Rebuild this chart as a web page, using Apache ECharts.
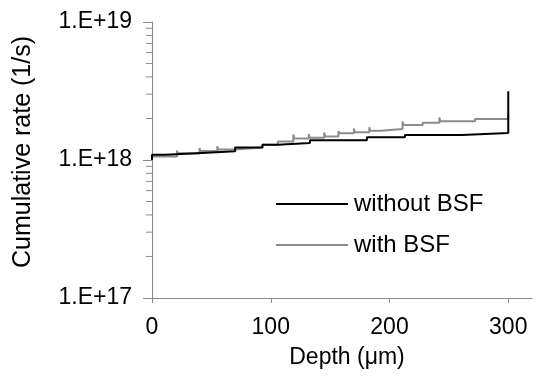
<!DOCTYPE html>
<html>
<head>
<meta charset="utf-8">
<script src="https://cdn.jsdelivr.net/npm/echarts@6/dist/echarts.min.js"></script>
<style>html,body{margin:0;padding:0;background:#fff;}#c{width:539px;height:385px;}</style>
</head>
<body>
<div id="c"></div>
<script>
// Depth (µm), cumulative rate (1/s) — step points (value holds from x to next x)
var withoutBSF = [
  [0, 1.0e18], [0, 1.09e18], [11, 1.12e18], [38, 1.155e18], [70, 1.23e18],
  [93, 1.29e18], [106, 1.33e18], [133, 1.39e18], [181, 1.46e18],
  [213, 1.52e18], [261, 1.57e18], [300, 3.15e18]
];
var withBSF = [
  [0, 1.0e18], [0, 1.06e18],
  [21, 1.17e18], [21.8, 1.12e18],
  [40, 1.22e18], [40.8, 1.16e18],
  [55, 1.26e18], [55.8, 1.19e18],
  [70, 1.23e18], [93, 1.29e18], [106, 1.36e18],
  [119, 1.53e18], [119.8, 1.43e18],
  [132, 1.54e18], [132.8, 1.45e18],
  [145, 1.58e18], [145.8, 1.48e18],
  [157, 1.62e18], [157.8, 1.56e18],
  [170, 1.69e18], [170.8, 1.59e18],
  [183, 1.73e18], [183.8, 1.63e18],
  [193, 1.68e18],
  [211, 1.90e18], [211.8, 1.79e18],
  [228, 1.86e18],
  [242, 2.03e18], [242.8, 1.91e18],
  [272, 1.985e18], [300, 2.2e18]
];
var xTicks = [0, 100, 200, 300];
var yTickLabels = ['1.E+17', '1.E+18', '1.E+19'];
var yMinorTicks = [2e17, 3e17, 4e17, 5e17, 6e17, 7e17, 8e17, 9e17,
                   2e18, 3e18, 4e18, 5e18, 6e18, 7e18, 8e18, 9e18];

var FONT = 'Liberation Sans';
var AXIS = '#8a8a8a';
var chart = echarts.init(document.getElementById('c'), null, {renderer: 'canvas'});
chart.setOption({
  animation: false,
  backgroundColor: '#fff',
  textStyle: {fontFamily: FONT},
  grid: {left: 152, right: 7, top: 22, bottom: 87, containLabel: false},
  legend: {
    orient: 'vertical', left: 270, top: 187,
    itemWidth: 72, itemHeight: 24, itemGap: 17,
    itemStyle: {opacity: 0},
    textStyle: {fontFamily: FONT, fontSize: 24, color: '#000', padding: [0, 0, 0, 1]},
    data: ['without BSF', 'with BSF']
  },
  xAxis: {
    type: 'value', min: 0, max: 320, interval: 100,
    axisLine: {show: true, lineStyle: {color: AXIS, width: 1}},
    axisTick: {show: true, inside: false, length: 5, lineStyle: {color: AXIS}, customValues: xTicks},
    axisLabel: {fontFamily: FONT, fontSize: 23, color: '#000', margin: 18, customValues: xTicks},
    splitLine: {show: false},
    name: 'Depth (μm)', nameLocation: 'middle', nameGap: 48,
    nameTextStyle: {fontFamily: FONT, fontSize: 23, color: '#000', padding: [0, 0, 0, 10]}
  },
  yAxis: {
    type: 'log', logBase: 10, min: 1e17, max: 1e19,
    axisLine: {show: true, lineStyle: {color: AXIS, width: 1}},
    axisTick: {show: true, inside: false, length: 9, lineStyle: {color: AXIS}},
    axisLabel: {
      fontFamily: FONT, fontSize: 23, color: '#000', margin: 20,
      formatter: function (v) {
        var e = Math.round(Math.log10(v));
        return yTickLabels[e - 17] || '';
      }
    },
    splitLine: {show: false},
    name: 'Cumulative rate (1/s)', nameLocation: 'middle', nameGap: 116,
    nameTextStyle: {fontFamily: FONT, fontSize: 25, color: '#000', padding: [0, 0, 0, 16]}
  },
  series: [
    {
      name: 'with BSF', type: 'line', step: 'end', data: withBSF,
      showSymbol: false, symbol: 'none',
      lineStyle: {color: '#8c8c8c', width: 2}, itemStyle: {color: '#8c8c8c'},
      z: 2
    },
    {
      name: 'without BSF', type: 'line', step: 'end', data: withoutBSF,
      showSymbol: false, symbol: 'none',
      lineStyle: {color: '#000', width: 2}, itemStyle: {color: '#000'},
      z: 3
    },
    {
      type: 'custom', silent: true, clip: false,
      data: yMinorTicks.map(function (v) { return [0, v]; }),
      renderItem: function (params, api) {
        var p = api.coord([api.value(0), api.value(1)]);
        return {type: 'line', shape: {x1: p[0] - 6, y1: p[1], x2: p[0], y2: p[1]},
                style: {stroke: AXIS, lineWidth: 1}};
      },
      z: 1
    }
  ]
});
</script>
</body>
</html>
